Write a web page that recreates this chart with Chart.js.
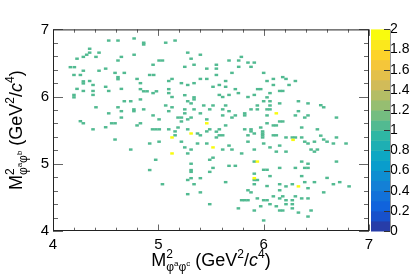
<!DOCTYPE html>
<html>
<head>
<meta charset="utf-8">
<script src="https://cdn.jsdelivr.net/npm/chart.js@4.4.0/dist/chart.umd.min.js"></script>
<style>
  html, body { margin: 0; padding: 0; background: #fff; overflow: hidden; }
</style>
</head>
<body>
<canvas id="dalitz" width="411" height="279"></canvas>
<script>
//-------------------------------------------------------------------
// data: bin centres of filled cells
//-------------------------------------------------------------------
const xRange = [4, 7];
const yRange = [4, 7];
const zRange = [0, 2];
const xTickValues = [4, 5, 6, 7];
const zTickValues = [0, 0.2, 0.4, 0.6, 0.8, 1, 1.2, 1.4, 1.6, 1.8, 2];

// cells with one entry
const cellsOne = [
  [4.529,6.834],[4.617,6.834],[4.348,6.712],[4.348,6.654],[4.437,6.654],[4.320,6.623],[4.288,6.591],[4.408,6.591],
  [4.649,6.591],[4.228,6.564],[4.617,6.537],[4.165,6.438],[4.203,6.438],[4.500,6.416],[4.288,6.385],[4.437,6.385],
  [4.589,6.353],[4.677,6.353],[4.199,6.322],[4.260,6.322],[4.617,6.290],[4.617,6.259],[4.348,6.232],[4.288,6.227],
  [4.288,6.196],[4.380,6.173],[4.500,6.146],[4.228,6.115],[4.649,6.115],[4.288,6.084],[4.380,6.084],[4.529,6.084],
  [4.380,6.025],[4.199,6.025],[4.199,5.989],[4.677,5.931],[4.738,5.931],[4.408,5.841],[4.617,5.841],[4.649,5.783],
  [4.529,5.751],[4.649,5.688],[4.260,5.634],[4.288,5.603],[4.557,5.603],[4.589,5.603],[4.500,5.544],[4.380,5.513],
  [4.770,6.865],[4.770,6.623],[4.768,5.810],[4.768,5.783],
  [4.861,6.802],[4.861,6.775],[5.070,6.802],[5.159,6.834],[5.279,6.654],[5.311,6.564],[5.399,6.623],[5.007,6.537],
  [5.039,6.537],[4.950,6.474],[5.251,6.443],[5.339,6.474],[5.460,6.416],[4.918,6.322],[4.956,6.322],[4.798,6.263],
  [5.099,6.232],[5.130,6.263],[5.399,6.263],[5.460,6.263],[4.830,6.200],[5.219,6.200],[5.279,6.173],[5.339,6.200],
  [4.830,6.111],[4.861,6.079],[4.893,6.079],[4.950,6.052],[4.982,6.079],[5.099,6.111],[5.099,6.052],[5.130,5.994],
  [5.251,6.021],[5.339,5.989],[5.339,5.958],[4.830,5.958],[5.279,5.931],[5.311,5.899],[5.070,5.868],[5.431,5.868],
  [5.519,5.868],[4.861,5.810],[5.130,5.841],[5.099,5.783],[5.251,5.810],[5.339,5.810],[5.488,5.810],[5.251,5.751],
  [5.399,5.751],[4.950,5.720],[5.187,5.688],[5.219,5.688],[5.311,5.688],[5.007,5.661],[5.279,5.661],[5.460,5.661],
  [5.219,5.630],[4.830,5.603],[4.798,5.571],[5.187,5.540],[4.945,5.513],[4.977,5.513],[5.009,5.513],[5.099,5.513],
  [5.279,5.513],[5.488,5.513],
  [5.788,6.591],[5.671,6.537],[5.763,6.537],[5.851,6.506],[5.911,6.506],[5.551,6.474],[5.763,6.443],[5.880,6.443],
  [5.551,6.416],[5.551,6.322],[5.699,6.353],[6.000,6.353],[6.092,6.263],[6.181,6.290],[6.212,6.263],[5.639,6.232],
  [6.032,6.232],[5.579,6.173],[5.519,6.146],[5.639,6.146],[6.092,6.173],[6.241,6.173],[5.731,6.111],[5.943,6.111],
  [5.972,6.111],[6.152,6.084],[6.181,6.084],[5.760,6.052],[5.579,6.025],[5.611,5.994],[5.671,6.025],[5.851,5.994],
  [5.911,6.025],[6.060,6.052],[6.032,5.989],[6.000,5.931],[6.060,5.931],[6.152,5.899],[5.639,5.868],[5.940,5.868],
  [6.060,5.868],[5.611,5.810],[5.671,5.783],[5.880,5.810],[5.940,5.810],[6.032,5.810],[6.060,5.810],[5.820,5.751],
  [5.820,5.720],[5.611,5.720],[5.731,5.720],[5.699,5.688],[6.032,5.720],[6.152,5.630],[6.181,5.630],[6.032,5.603],
  [6.092,5.571],[6.120,5.571],[5.639,5.571],[5.972,5.540],[5.579,5.513],[5.820,5.513],[5.880,5.513],
  [6.301,6.232],[6.330,5.931],[6.421,5.899],[6.542,5.872],[6.570,5.841],[6.330,5.783],[6.301,5.720],[6.390,5.688],
  [6.421,5.720],[6.691,5.688],[6.361,5.540],[6.510,5.513],
  [4.589,5.361],[4.738,5.212],
  [5.159,5.482],[5.159,5.424],[5.372,5.451],[5.399,5.424],[5.460,5.482],[4.918,5.302],[5.007,5.329],[5.219,5.329],
  [5.372,5.302],[5.460,5.302],[5.251,5.244],[5.311,5.212],[5.279,5.154],[5.519,5.091],[5.488,5.060],[4.975,5.060],
  [5.311,5.001],[5.311,4.907],[5.311,4.880],[4.918,4.907],[5.488,4.880],[5.311,4.786],[5.399,4.786],[5.279,4.759],
  [5.039,4.696],[5.339,4.696],[5.399,4.575],[5.279,4.548],[5.488,4.399],
  [5.551,5.478],[5.579,5.424],[5.611,5.424],[5.551,5.392],[5.851,5.424],[5.911,5.451],[5.880,5.482],[5.990,5.482],
  [5.990,5.451],[5.990,5.424],[5.990,5.392],[6.092,5.424],[6.120,5.424],[6.212,5.392],[6.272,5.392],[5.851,5.329],
  [6.000,5.302],[5.671,5.271],[5.611,5.212],[5.699,5.212],[5.791,5.154],[5.911,5.212],[6.060,5.244],[6.152,5.271],
  [6.120,5.181],[6.212,5.181],[5.911,5.033],[5.519,4.939],[5.671,4.970],[5.731,4.970],[6.000,4.911],[6.032,4.911],
  [6.152,4.939],[5.911,4.853],[6.060,4.817],[5.911,4.759],[5.940,4.759],[5.911,4.696],[5.639,4.727],[6.032,4.669],
  [6.152,4.696],[6.212,4.664],[6.272,4.696],[5.851,4.606],[5.880,4.575],[6.152,4.606],[6.092,4.516],[6.181,4.516],
  [6.152,4.485],[5.940,4.485],[5.791,4.458],[5.820,4.458],[5.851,4.458],[6.000,4.458],[6.032,4.458],[6.212,4.458],
  [6.272,4.458],[6.060,4.399],[6.120,4.368],[5.972,4.368],[6.212,4.399],[6.272,4.399],[5.760,4.337],[5.911,4.305],
  [6.152,4.305],[6.181,4.305],[6.000,4.157],[6.272,4.337],
  [6.301,5.392],[6.361,5.392],[6.542,5.419],[6.691,5.392],[6.390,5.329],[6.421,5.302],[6.482,5.329],[6.570,5.361],
  [6.602,5.329],[6.662,5.302],[6.782,5.302],[6.450,5.212],[6.482,5.181],[6.510,5.212],[6.361,5.033],[6.421,5.001],
  [6.691,5.033],[6.301,4.939],[6.390,4.939],[6.421,4.939],[6.361,4.817],[6.602,4.790],[6.390,4.727],[6.482,4.727],
  [6.662,4.696],[6.722,4.727],[6.811,4.664],[6.421,4.637],[6.570,4.575],[6.301,4.516],[6.361,4.485],[6.421,4.485],
  [6.330,4.274],[6.450,4.305],[6.421,4.215]
];

// cells with two entries
const cellsTwo = [
  [5.460,5.603],[6.120,5.751],[5.311,5.451],[5.130,5.392],[5.130,5.154],
  [6.279,5.356],[5.519,5.244],[5.940,5.033],[5.911,4.786],[6.330,4.664]
];

//-------------------------------------------------------------------
// style
//-------------------------------------------------------------------
const binW = 0.034;
const binH = 0.036;
const nLevels = 20;
const FONT = "'Liberation Sans', Arial, Helvetica, sans-serif";

// ROOT kBird palette
const birdStops = [0.0, 0.125, 0.25, 0.375, 0.5, 0.625, 0.75, 0.875, 1.0];
const birdRed   = [0.2082, 0.0592, 0.0780, 0.0232, 0.1802, 0.5301, 0.8186, 0.9956, 0.9764];
const birdGreen = [0.1664, 0.3599, 0.5041, 0.6419, 0.7178, 0.7492, 0.7328, 0.7862, 0.9832];
const birdBlue  = [0.5293, 0.8684, 0.8385, 0.7914, 0.6425, 0.4662, 0.3499, 0.1968, 0.0539];

function birdColor(t) {
  let i = 0;
  while (i < birdStops.length - 2 && t > birdStops[i + 1]) i++;
  let f = (t - birdStops[i]) / (birdStops[i + 1] - birdStops[i]);
  f = Math.max(0, Math.min(1, f));
  const c = (arr) => Math.round(255 * (arr[i] + f * (arr[i + 1] - arr[i])));
  return 'rgb(' + c(birdRed) + ',' + c(birdGreen) + ',' + c(birdBlue) + ')';
}

function levelColor(level) {
  const idx = Math.floor((level + 0.99) * 255 / nLevels);
  return birdColor(idx / 254);
}

function contentColor(z) {
  let level = Math.floor(0.01 + (z - zRange[0]) * nLevels / (zRange[1] - zRange[0]));
  if (level > nLevels - 1) level = nLevels - 1;
  return levelColor(level);
}

//-------------------------------------------------------------------
// plugins
//-------------------------------------------------------------------
const cellPlugin = {
  id: 'cells',
  beforeDatasetsDraw(chart) {
    const { ctx, chartArea, scales: { x, y } } = chart;
    ctx.save();
    ctx.beginPath();
    ctx.rect(chartArea.left, chartArea.top, chartArea.width, chartArea.height);
    ctx.clip();
    chart.data.datasets.forEach(ds => {
      ctx.fillStyle = ds.backgroundColor;
      ds.data.forEach(p => {
        const x0 = x.getPixelForValue(p.x - binW / 2);
        const x1 = x.getPixelForValue(p.x + binW / 2);
        const y0 = y.getPixelForValue(p.y + binH / 2);
        const y1 = y.getPixelForValue(p.y - binH / 2);
        ctx.fillRect(x0, y0, x1 - x0, y1 - y0);
      });
    });
    ctx.restore();
  }
};

const framePlugin = {
  id: 'frame',
  afterDraw(chart) {
    const { ctx, chartArea: a, scales: { x, y } } = chart;
    ctx.save();
    ctx.strokeStyle = '#666';
    ctx.lineWidth = 1;
    ctx.beginPath();
    for (let k = 0; k <= 15; k++) {
      const v = 4 + k * 0.2;
      const major = (k % 5 === 0);
      const px = Math.round(x.getPixelForValue(v)) + 0.5;
      const lx = major ? 6.5 : 3.3;
      ctx.moveTo(px, a.bottom); ctx.lineTo(px, a.bottom - lx);
      ctx.moveTo(px, a.top); ctx.lineTo(px, a.top + lx);
      const py = Math.round(y.getPixelForValue(v)) + 0.5;
      const ly = major ? 10 : 5;
      ctx.moveTo(a.left, py); ctx.lineTo(a.left + ly, py);
      ctx.moveTo(a.right, py); ctx.lineTo(a.right - ly, py);
    }
    ctx.stroke();
    ctx.strokeStyle = '#222';
    ctx.strokeRect(a.left + 0.5, a.top + 0.5, a.width - 1, a.height - 1);
    ctx.restore();
  }
};

const palettePlugin = {
  id: 'palette',
  afterDraw(chart) {
    const { ctx, chartArea: a, scales: { z } } = chart;
    const left = a.right + 2, right = a.right + 21;
    ctx.save();
    for (let i = 0; i < nLevels; i++) {
      const v0 = zRange[0] + i * (zRange[1] - zRange[0]) / nLevels;
      const v1 = zRange[0] + (i + 1) * (zRange[1] - zRange[0]) / nLevels;
      const p0 = z.getPixelForValue(v0), p1 = z.getPixelForValue(v1);
      ctx.fillStyle = levelColor(i);
      ctx.fillRect(left, p1, right - left, p0 - p1 + 0.5);
    }
    ctx.strokeStyle = '#333';
    ctx.lineWidth = 1;
    ctx.beginPath();
    zTickValues.forEach(v => {
      const py = Math.round(z.getPixelForValue(v)) + 0.5;
      ctx.moveTo(right, py); ctx.lineTo(right - 6, py);
    });
    ctx.stroke();
    ctx.strokeStyle = '#999';
    ctx.beginPath();
    ctx.moveTo(right + 0.5, a.top); ctx.lineTo(right + 0.5, a.bottom);
    ctx.stroke();
    ctx.restore();
  }
};

// ROOT-style axis title with stacked super/subscripts
function titleRuns(supA, supB) {
  return [
    { t: 'M', f: 18 },
    { stack: [
      [{ t: '2', f: 12, dy: -8 }],
      [{ t: 'φ', f: 12, dy: 5 }, { t: supA, f: 8, dy: 0 }, { t: 'φ', f: 12, dy: 5 }, { t: supB, f: 8, dy: 0 }]
    ] },
    { t: ' (GeV', f: 18 }, { t: '2', f: 12, dy: -8 }, { t: '/', f: 18 },
    { t: 'c', f: 18, it: true }, { t: '4', f: 12, dy: -8 }, { t: ')', f: 18 }
  ];
}

function runFont(r) { return (r.it ? 'italic ' : '') + r.f + 'px ' + FONT; }

function measureRuns(ctx, runs) {
  let w = 0;
  runs.forEach(r => {
    if (r.stack) {
      r.w = Math.max(...r.stack.map(line => measureRuns(ctx, line)));
    } else {
      ctx.font = runFont(r);
      r.w = ctx.measureText(r.t).width;
    }
    w += r.w;
  });
  return w;
}

function drawRuns(ctx, runs, x0) {
  let x = x0;
  runs.forEach(r => {
    if (r.stack) {
      r.stack.forEach(line => drawRuns(ctx, line, x));
    } else {
      ctx.font = runFont(r);
      ctx.fillText(r.t, x, r.dy || 0);
    }
    x += r.w;
  });
}

const titlePlugin = {
  id: 'titles',
  afterDraw(chart) {
    const { ctx, chartArea: a } = chart;
    ctx.save();
    ctx.fillStyle = '#000';
    ctx.textBaseline = 'alphabetic';
    ctx.textAlign = 'left';

    const xr = titleRuns('a', 'c');
    const xw = measureRuns(ctx, xr);
    ctx.save();
    ctx.translate((a.left + a.right) / 2 - xw / 2, 266);
    drawRuns(ctx, xr, 0);
    ctx.restore();

    const yr = titleRuns('a', 'b');
    const yw = measureRuns(ctx, yr);
    ctx.save();
    ctx.translate(22, (a.top + a.bottom) / 2);
    ctx.rotate(-Math.PI / 2);
    drawRuns(ctx, yr, -yw / 2);
    ctx.restore();

    ctx.restore();
  }
};

//-------------------------------------------------------------------
// chart
//-------------------------------------------------------------------
const toPoints = (cells) => cells.map(c => ({ x: c[0], y: c[1] }));

new Chart(document.getElementById('dalitz').getContext('2d'), {
  type: 'scatter',
  data: {
    datasets: [
      { data: toPoints(cellsOne), backgroundColor: contentColor(1), pointRadius: 0, pointHoverRadius: 0 },
      { data: toPoints(cellsTwo), backgroundColor: contentColor(2), pointRadius: 0, pointHoverRadius: 0 }
    ]
  },
  options: {
    responsive: false,
    animation: false,
    devicePixelRatio: 1,
    events: [],
    layout: { padding: { top: 8, left: 0, right: 0, bottom: 0 } },
    plugins: { legend: { display: false }, tooltip: { enabled: false } },
    scales: {
      x: {
        type: 'linear', min: xRange[0], max: xRange[1],
        afterBuildTicks: (s) => { s.ticks = xTickValues.map(v => ({ value: v })); },
        afterFit: (s) => { s.height = 48; },
        grid: { display: false, drawTicks: false },
        border: { display: false },
        ticks: { padding: 5, color: '#000', font: { family: FONT, size: 15 } }
      },
      y: {
        type: 'linear', min: yRange[0], max: yRange[1],
        afterBuildTicks: (s) => { s.ticks = xTickValues.map(v => ({ value: v })); },
        afterFit: (s) => { s.width = 53; },
        grid: { display: false, drawTicks: false },
        border: { display: false },
        ticks: { padding: 4, color: '#000', font: { family: FONT, size: 15 } }
      },
      z: {
        type: 'linear', position: 'right', axis: 'y', min: zRange[0], max: zRange[1],
        afterBuildTicks: (s) => { s.ticks = zTickValues.map(v => ({ value: v })); },
        afterFit: (s) => { s.width = 42; },
        grid: { display: false, drawTicks: false },
        border: { display: false },
        ticks: {
          padding: 21, color: '#000', font: { family: FONT, size: 14 },
          callback: (v) => String(Math.round(v * 10) / 10)
        }
      }
    }
  },
  plugins: [cellPlugin, palettePlugin, framePlugin, titlePlugin]
});
</script>
</body>
</html>
